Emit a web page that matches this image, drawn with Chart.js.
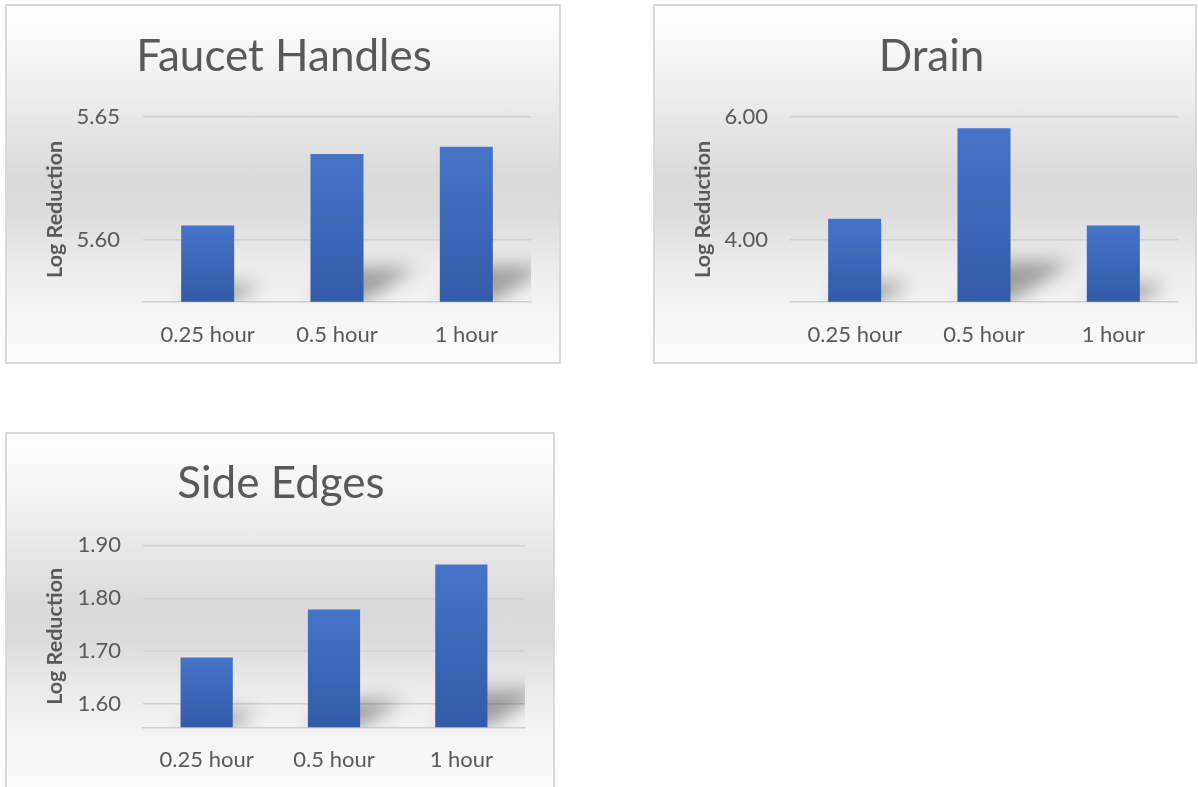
<!DOCTYPE html>
<html>
<head>
<meta charset="utf-8">
<script src="https://cdn.jsdelivr.net/npm/chart.js@4.4.1/dist/chart.umd.min.js"></script>
<style>
  body { margin: 0; background: #fff; width: 1198px; height: 787px; overflow: hidden; position: relative; }
  .panel {
    position: absolute; box-sizing: border-box; border: 2px solid #d9d9d9;
    background: linear-gradient(to bottom, #ffffff 0%, #eeeeee 24%, #dadada 48%, #dcdcdc 58%, #ebebeb 72%, #f5f5f5 86%, #fbfbfb 100%);
  }
  .panel canvas { display: block; }
</style>
</head>
<body>
<div class="panel" style="left:5px;top:4px;width:556px;height:360px"><canvas id="faucet" width="552" height="356"></canvas></div>
<div class="panel" style="left:653px;top:4px;width:544px;height:360px"><canvas id="drain" width="540" height="356"></canvas></div>
<div class="panel" style="left:5px;top:432px;width:550px;height:360px"><canvas id="side" width="546" height="356"></canvas></div>
<script>
// values
const categories = ['0.25 hour', '0.5 hour', '1 hour'];

const faucetValues = [5.606, 5.635, 5.638];
const faucetTicks = [5.60, 5.65];

const drainValues = [4.35, 5.82, 4.24];
const drainTicks = [4.00, 6.00];

const sideValues = [1.688, 1.779, 1.864];
const sideTicks = [1.60, 1.70, 1.80, 1.90];

const textColor = '#595959';
const gridColor = '#d0d0d0';
const fontFamily = 'Lato, "Open Sans", sans-serif';

// per-bar vertical gradient, like the Excel fill
function barFill(c) {
  const chart = c.chart;
  if (!chart.chartArea || c.type !== 'data' || !c.parsed) return '#4472c4';
  const y = chart.scales.y;
  const top = y.getPixelForValue(c.parsed.y);
  const bottom = y.getPixelForValue(y.min);
  const g = chart.ctx.createLinearGradient(0, top, 0, bottom);
  g.addColorStop(0, '#4574c8');
  g.addColorStop(1, '#335ba7');
  return g;
}

// soft perspective shadow behind each bar: the shape is drawn off to the left,
// only its blurred canvas shadow lands next to the bar
const barShadow = {
  id: 'barShadow',
  beforeDatasetsDraw(chart) {
    const ctx = chart.ctx;
    const area = chart.chartArea;
    const base = area.bottom;
    const meta = chart.getDatasetMeta(0);
    const off = 3000;
    const dpr = chart.currentDevicePixelRatio || 1;
    ctx.save();
    ctx.beginPath();
    ctx.rect(area.left, area.top, area.right - area.left, area.bottom - area.top);
    ctx.clip();
    ctx.shadowColor = 'rgba(0,0,0,0.34)';
    ctx.shadowBlur = 18 * dpr;
    ctx.shadowOffsetX = off * dpr;
    ctx.shadowOffsetY = 0;
    ctx.fillStyle = '#000';
    meta.data.forEach(bar => {
      const p = bar.getProps(['x', 'y', 'width'], true);
      const h = base - p.y;
      const half = p.width / 2;
      const dx = h * 0.36, dy = h * 0.23;
      ctx.beginPath();
      ctx.moveTo(p.x - half - off, base);
      ctx.lineTo(p.x + half - off, base);
      ctx.lineTo(p.x + half + dx - off, base - dy);
      ctx.lineTo(p.x - half + dx * 0.7 - off, base - dy);
      ctx.closePath();
      ctx.fill();
    });
    ctx.restore();
  }
};

function makeChart(id, title, values, tickValues, min, max, lay) {
  return new Chart(document.getElementById(id), {
    type: 'bar',
    data: {
      labels: categories,
      datasets: [{
        data: values,
        backgroundColor: barFill,
        borderWidth: 0,
        barPercentage: 0.41,
        categoryPercentage: 1.0
      }]
    },
    options: {
      responsive: false,
      animation: false,
      layout: { padding: { left: 30, right: lay.right, top: 0, bottom: 0 } },
      plugins: {
        legend: { display: false },
        tooltip: { enabled: false },
        title: {
          display: true,
          text: title,
          color: textColor,
          font: { family: fontFamily, size: 44, weight: 'normal' },
          padding: { top: lay.titleTop, bottom: lay.titleBottom }
        }
      },
      scales: {
        x: {
          grid: { display: false },
          border: { display: true, color: gridColor, width: 1.5 },
          ticks: { color: textColor, font: { family: fontFamily, size: 22 }, padding: lay.xPad },
          afterFit(s) { s.height = lay.xHeight; }
        },
        y: {
          min: min,
          max: max,
          grid: { color: gridColor, lineWidth: 1.5, drawTicks: false },
          border: { display: false },
          afterBuildTicks(s) { s.ticks = tickValues.map(v => ({ value: v })); },
          ticks: {
            color: textColor,
            font: { family: fontFamily, size: 22 },
            padding: lay.yPad,
            callback: v => Number(v).toFixed(2)
          },
          title: {
            display: true,
            text: 'Log Reduction',
            color: textColor,
            font: { family: fontFamily, size: 21.5, weight: 'bold' },
            padding: { top: 5, bottom: 0 }
          },
          afterFit(s) { s.width = lay.yWidth; }
        }
      }
    },
    plugins: [barShadow]
  });
}

makeChart('faucet', 'Faucet Handles', faucetValues, faucetTicks, 5.575, 5.65,
  { right: 28, titleTop: 24, titleBottom: 34.3, xHeight: 60.3, xPad: 12, yPad: 23, yWidth: 106 });
makeChart('drain', 'Drain', drainValues, drainTicks, 3.0, 6.0,
  { right: 17, titleTop: 24, titleBottom: 34.3, xHeight: 60.3, xPad: 12, yPad: 22, yWidth: 105 });
makeChart('side', 'Side Edges', sideValues, sideTicks, 1.556, 1.90,
  { right: 28, titleTop: 23, titleBottom: 35.6, xHeight: 62.7, xPad: 11, yPad: 22, yWidth: 106 });
</script>
</body>
</html>
